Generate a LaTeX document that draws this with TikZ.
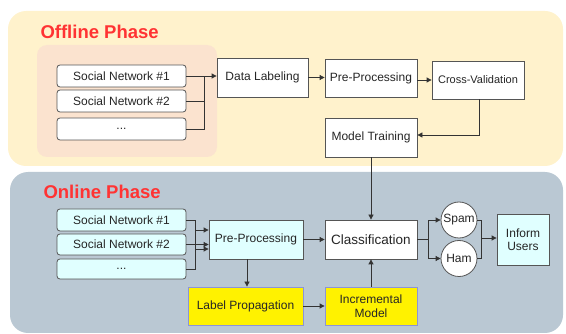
\documentclass[tikz,border=0pt]{standalone}
\usepackage{fontspec}
\setmainfont{Liberation Sans}
\usetikzlibrary{arrows.meta}

\definecolor{offfill}{HTML}{FFF2CC}
\definecolor{peach}{HTML}{FBE3CF}
\definecolor{onfill}{HTML}{BAC8D3}
\definecolor{lcyan}{HTML}{E0FFFF}
\definecolor{edgegray}{HTML}{555555}
\definecolor{wire}{HTML}{333333}
\definecolor{titlered}{HTML}{FF3333}
\definecolor{ybord}{HTML}{8C94D8}

\tikzset{
  base/.style={draw=edgegray, line width=0.8pt, text=black!85,
    font=\fontsize{12}{14}\selectfont, inner sep=0pt, align=center},
  srcbox/.style={base, rounded corners=3pt, minimum width=129pt, minimum height=22pt},
  procbox/.style={base, fill=white, minimum width=92pt, minimum height=39pt},
  yelbox/.style={base, draw=ybord, fill=yellow, minimum height=38pt},
  outcome/.style={base, circle, fill=white, minimum size=36pt},
  phase/.style={font=\bfseries\fontsize{18.5}{20}\selectfont, text=titlered, anchor=base west},
  link/.style={draw=wire, line width=0.8pt},
  flow/.style={link, -{Triangle[length=5pt,width=5pt]}}
}

\begin{document}
\begin{tikzpicture}[x=1pt,y=-1pt]
\useasboundingbox (0,0) rectangle (566,334);

% phase panels
\path[fill=offfill, rounded corners=18pt] (8,11) rectangle (563,166);
\path[fill=onfill, rounded corners=18pt] (10,172) rectangle (563,333);
\path[fill=peach, rounded corners=10pt] (37,45) rectangle (217,157);

\node[phase] (offt) at (37,38.5) {Offline Phase};
\node[phase] (ont) at (40,198.5) {Online Phase};

% offline stage
\node[srcbox, fill=white] (sn1) at (121.5,76) {Social Network \#1};
\node[srcbox, fill=white] (sn2) at (121.5,101) {Social Network \#2};
\node[srcbox, fill=white] (sn3) at (121.5,129) {...};
\node[procbox, minimum width=91pt] (dl) at (262.5,77.5) {Data Labeling};
\node[procbox, minimum height=38pt] (pp) at (371,78) {Pre-Processing};
\node[procbox, minimum height=38pt, font=\fontsize{11}{13}\selectfont] (cv) at (478,80) {Cross-Validation};
\node[procbox] (mt) at (371,137.5) {Model Training};

\coordinate (j1) at (204,76);
\draw[flow] (sn1.east) -- (sn1.east -| dl.west);
\draw[link] (sn2.east) -| (j1);
\draw[link] (sn3.east) -| (j1);
\draw[flow] (dl.east) -- (dl.east -| pp.west);
\draw[flow] (cv.west -| pp.east) -- (cv.west);
\draw[flow] ([xshift=1pt]cv.south) |- ([yshift=2.5pt]mt.east);

% online stage
\node[srcbox, fill=lcyan] (os1) at (121.5,220) {Social Network \#1};
\node[srcbox, fill=lcyan, minimum height=21pt] (os2) at (121.5,244.5) {Social Network \#2};
\node[srcbox, fill=lcyan, minimum height=20pt] (os3) at (121.5,269) {...};
\node[procbox, fill=lcyan, minimum width=94pt] (opp) at (256,239.5) {Pre-Processing};
\node[procbox, font=\fontsize{13.5}{15}\selectfont] (cls) at (371,239.5) {Classification};
\node[yelbox, minimum width=115pt] (lp) at (245.5,306) {Label Propagation};
\node[yelbox, minimum width=92pt, font=\fontsize{12}{13.5}\selectfont] (im) at (371,306) {Incremental\\Model};
\node[outcome] (spam) at (459,220) {Spam};
\node[outcome] (ham) at (459,258.5) {Ham};
\node[procbox, fill=lcyan, minimum width=52pt, minimum height=51pt, font=\fontsize{12}{13.5}\selectfont] (iu) at (523,239.5) {Inform\\Users};

\draw[flow] (os1.east) -- ++(9,0) |- ([yshift=-9.5pt]opp.west);
\draw[flow] (os2.east) -- (os2.east -| opp.west);
\draw[flow] (os3.east) -- ++(9,0) |- ([yshift=9.5pt]opp.west);
\draw[flow] ([xshift=-9pt]opp.south) -- ([xshift=1.5pt]lp.north);
\draw[flow] (lp.east) -- (im.west);
\draw[flow] (im.north) -- (cls.south);
\draw[flow] (opp.east) -- (cls.west);
\draw[flow] (mt.south) -- (cls.north);

\coordinate (cj) at ([xshift=11pt]cls.east);
\draw[link] (cls.east) -- (cj);
\draw[flow] (cj) |- (spam.west);
\draw[flow] (cj) |- (ham.west);

\coordinate (ij) at ([xshift=-15pt,yshift=1.5pt]iu.west);
\draw[link] (spam.east) -| (ij);
\draw[link] (ham.east) -| (ij);
\draw[flow] (ij) -- (ij -| iu.west);
\end{tikzpicture}
\end{document}
